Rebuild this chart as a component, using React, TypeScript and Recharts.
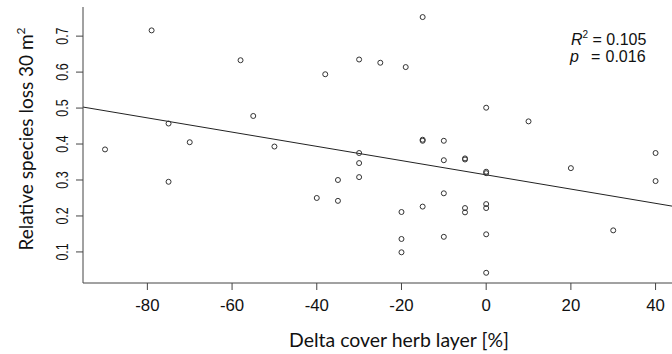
import React from 'react';
import { ComposedChart, Scatter, XAxis, YAxis, ReferenceLine } from 'recharts';

const deltaCover = [
  -90, -79, -75, -75, -70, -58, -55, -50, -40, -38,
  -35, -35, -30, -30, -30, -30, -25, -20, -20, -20,
  -19, -15, -15, -15, -15, -10, -10, -10, -10, -5,
  -5, -5, -5, 0, 0, 0, 0, 0, 0, 0,
  10, 20, 30, 40, 40,
];
const speciesLoss = [
  0.385, 0.716, 0.457, 0.295, 0.405, 0.633, 0.478, 0.393, 0.25, 0.594,
  0.3, 0.242, 0.635, 0.375, 0.347, 0.308, 0.626, 0.211, 0.136, 0.099,
  0.614, 0.753, 0.412, 0.409, 0.226, 0.409, 0.355, 0.263, 0.142, 0.36,
  0.357, 0.222, 0.21, 0.501, 0.323, 0.319, 0.233, 0.222, 0.149, 0.042,
  0.463, 0.333, 0.16, 0.375, 0.297,
];
const xTicks = [-80, -60, -40, -20, 0, 20, 40];
const yTicks = [0.1, 0.2, 0.3, 0.4, 0.5, 0.6, 0.7];
const xDomain: [number, number] = [-95.2, 45.2];
const yDomain: [number, number] = [0.0136, 0.781];
const fitIntercept = 0.3143;
const fitSlope = -0.00198;
const statR2 = '0.105';
const statP = '0.016';
const xTitle = 'Delta cover herb layer [%]';
const yTitle = 'Relative species loss 30 m';

const points = deltaCover.map((x, i) => ({ x, y: speciesLoss[i] }));
const fitSegment = xDomain.map((x) => ({ x, y: fitIntercept + fitSlope * x }));

const AXIS = '#444';
const TICK_FONT = '"Liberation Sans", Arial, sans-serif';
const TITLE_FONT = 'Lato, "Open Sans", sans-serif';

const XTick = (props: any) => {
  const { x, payload } = props;
  return (
    <text
      transform={`translate(${x}, 310.5) scale(1.05, 1)`}
      textAnchor="middle"
      fontSize={16}
      fontFamily={TICK_FONT}
      fill="#111"
    >
      {String(payload.value)}
    </text>
  );
};

const YTick = (props: any) => {
  const { y, payload } = props;
  return (
    <text
      transform={`translate(67.5, ${y}) rotate(-90) scale(0.78, 1)`}
      textAnchor="middle"
      fontSize={16}
      fontFamily={TICK_FONT}
      fill="#111"
    >
      {Number(payload.value).toFixed(1)}
    </text>
  );
};

const Dot = (props: any) => {
  const { cx, cy } = props;
  return <circle cx={cx} cy={cy} r={2.5} fill="none" stroke="#333" strokeWidth={1} />;
};

export default function App() {
  return (
    <div
      style={{
        position: 'absolute',
        left: 0,
        top: 0,
        width: 672,
        height: 354,
        overflow: 'hidden',
        background: '#fff',
      }}
    >
      <ComposedChart
        width={690}
        height={354}
        margin={{ top: 7, right: 12.4, bottom: 0, left: 0 }}
      >
        <XAxis
          xAxisId="main"
          dataKey="x"
          type="number"
          domain={xDomain}
          ticks={xTicks}
          allowDataOverflow
          height={71}
          tickSize={7}
          tick={<XTick />}
          axisLine={{ stroke: AXIS, strokeWidth: 1 }}
          tickLine={{ stroke: AXIS, strokeWidth: 1 }}
        />
        <XAxis
          xAxisId="top"
          orientation="top"
          type="number"
          domain={xDomain}
          allowDataOverflow
          height={0}
          tick={false}
          tickLine={false}
          axisLine={{ stroke: AXIS, strokeWidth: 1 }}
        />
        <YAxis
          yAxisId="main"
          dataKey="y"
          type="number"
          domain={yDomain}
          ticks={yTicks}
          allowDataOverflow
          width={83}
          tickSize={7}
          tick={<YTick />}
          axisLine={{ stroke: AXIS, strokeWidth: 1 }}
          tickLine={{ stroke: AXIS, strokeWidth: 1 }}
        />
        <ReferenceLine
          xAxisId="main"
          yAxisId="main"
          segment={fitSegment}
          stroke="#222"
          strokeWidth={1}
          ifOverflow="hidden"
        />
        <Scatter
          xAxisId="main"
          yAxisId="main"
          data={points}
          shape={<Dot />}
          isAnimationActive={false}
        />
        <text
          x={399}
          y={347}
          textAnchor="middle"
          fontFamily={TITLE_FONT}
          fontSize={19}
          fill="#111"
          textLength={220}
          lengthAdjust="spacingAndGlyphs"
        >
          {xTitle}
        </text>
        <text
          transform="translate(33, 139) rotate(-90)"
          textAnchor="middle"
          fontFamily={TITLE_FONT}
          fontSize={19}
          fill="#111"
        >
          {yTitle}
          <tspan fontSize={12} dy={-8}>2</tspan>
        </text>
        <text x={571} y={45} fontFamily={TICK_FONT} fontSize={16} fill="#111">
          <tspan fontStyle="italic">R</tspan>
          <tspan fontSize={10} dy={-7}>2</tspan>
          <tspan dy={7}> = {statR2}</tspan>
        </text>
        <text x={570} y={61.5} fontFamily={TICK_FONT} fontSize={16} fill="#111" fontStyle="italic">
          p
        </text>
        <text x={591} y={61.5} fontFamily={TICK_FONT} fontSize={16} fill="#111">
          =
        </text>
        <text x={605.5} y={61.5} fontFamily={TICK_FONT} fontSize={16} fill="#111">
          {statP}
        </text>
      </ComposedChart>
    </div>
  );
}
